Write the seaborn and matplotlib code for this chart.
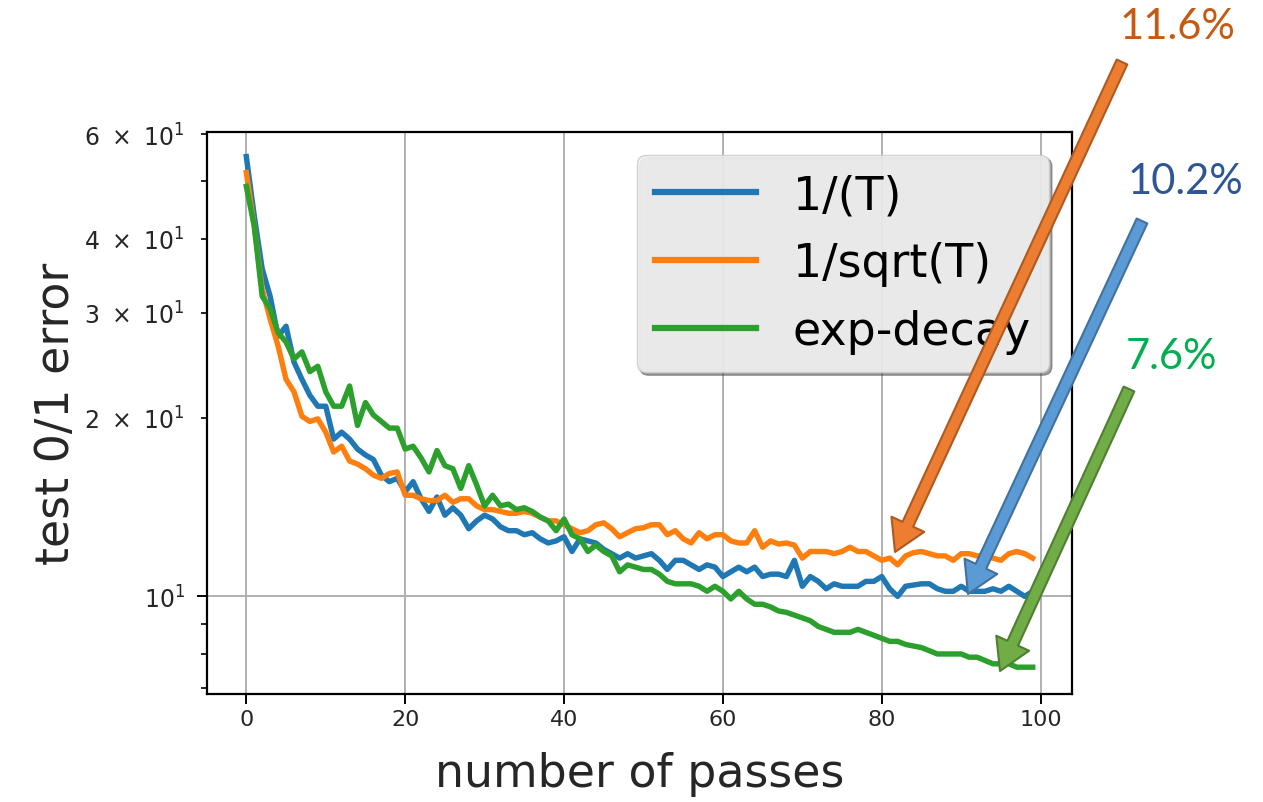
import matplotlib
matplotlib.use("Agg")
import matplotlib.pyplot as plt
import matplotlib.ticker as mticker
import numpy as np
import pandas as pd
import seaborn as sns

# test 0/1 error (%) per pass
passes = list(range(100))

err_inv_t = [
    55.0, 43.7, 35.6, 32.0, 27.4, 28.5, 24.8, 23.2, 21.8, 20.9,
    20.9, 18.4, 18.9, 18.4, 17.7, 17.3, 17.0, 16.0, 15.6, 15.8,
    15.0, 15.6, 14.6, 13.9, 14.7, 13.7, 14.1, 13.7, 13.0, 13.4,
    13.7, 13.5, 13.1, 12.9, 12.9, 12.7, 12.8, 12.5, 12.3, 12.4,
    12.6, 11.9, 12.5, 12.4, 12.3, 12.0, 11.8, 11.6, 11.8, 11.6,
    11.7, 11.8, 11.5, 11.1, 11.5, 11.5, 11.3, 11.1, 11.3, 11.2,
    10.8, 11.0, 11.2, 11.0, 11.2, 10.8, 10.9, 10.9, 10.8, 11.5,
    10.4, 10.8, 10.6, 10.3, 10.5, 10.4, 10.4, 10.4, 10.6, 10.6,
    10.8, 10.3, 10.0, 10.4, 10.45, 10.5, 10.5, 10.3, 10.2, 10.2,
    10.4, 10.2, 10.2, 10.2, 10.3, 10.2, 10.4, 10.2, 10.0, 10.2,
]

err_inv_sqrt_t = [
    51.7, 42.0, 32.9, 29.3, 26.4, 23.2, 22.1, 20.1, 19.7, 19.9,
    18.9, 17.5, 17.9, 16.9, 16.7, 16.4, 16.0, 15.8, 16.1, 16.2,
    14.8, 14.8, 14.6, 14.5, 14.5, 14.8, 14.4, 14.6, 14.6, 14.2,
    14.0, 14.0, 13.9, 13.8, 13.8, 13.9, 13.8, 13.6, 13.4, 13.4,
    13.2, 13.0, 12.8, 12.9, 13.2, 13.3, 13.0, 12.6, 12.8, 13.0,
    13.05, 13.2, 13.2, 12.7, 12.9, 12.5, 12.3, 12.8, 12.5, 12.7,
    12.7, 12.4, 12.3, 12.3, 12.9, 12.1, 12.4, 12.25, 12.3, 12.2,
    11.6, 11.9, 11.9, 11.9, 11.8, 11.9, 12.1, 11.9, 11.9, 11.7,
    11.5, 11.6, 11.3, 11.7, 11.85, 11.9, 11.8, 11.7, 11.7, 11.5,
    11.8, 11.8, 11.7, 11.7, 11.6, 11.5, 11.8, 11.9, 11.8, 11.6,
]

err_exp_decay = [
    49.0, 42.0, 32.0, 30.5, 27.8, 26.8, 25.1, 25.8, 23.9, 24.4,
    22.1, 20.9, 20.9, 22.6, 19.4, 21.2, 20.2, 19.7, 19.2, 19.2,
    17.7, 17.9, 17.1, 16.2, 17.6, 16.6, 16.4, 15.2, 16.6, 15.4,
    14.2, 14.8, 14.2, 14.3, 14.0, 14.1, 13.9, 13.6, 13.4, 12.9,
    13.5, 12.7, 12.5, 11.9, 12.2, 11.9, 11.7, 11.0, 11.3, 11.2,
    11.1, 11.1, 10.9, 10.6, 10.5, 10.5, 10.5, 10.4, 10.2, 10.4,
    10.2, 9.9, 10.2, 9.9, 9.7, 9.7, 9.6, 9.45, 9.4, 9.3,
    9.2, 9.1, 8.9, 8.8, 8.7, 8.7, 8.7, 8.8, 8.7, 8.6,
    8.5, 8.4, 8.4, 8.3, 8.25, 8.2, 8.1, 8.0, 8.0, 8.0,
    8.0, 7.9, 7.9, 7.8, 7.7, 7.7, 7.7, 7.6, 7.6, 7.6,
]

series_names = ["1/(T)", "1/sqrt(T)", "exp-decay"]
line_colors = ["#1f77b4", "#ff7f0e", "#2ca02c"]

# minor y ticks that carry a label (the rest stay blank)
labelled_minor = [20, 30, 40, 60]

final_labels = ["11.6%", "10.2%", "7.6%"]
label_colors = ["#C55A11", "#2F5597", "#00B050"]
arrow_fill = ["#ED7D31", "#5B9BD5", "#70AD47"]
arrow_edge = ["#AE5A21", "#41719C", "#507E32"]

df = pd.concat([
    pd.DataFrame({"pass": passes, "error": vals, "schedule": name})
    for name, vals in zip(series_names, [err_inv_t, err_inv_sqrt_t, err_exp_decay])
])

W, H = 1263, 803
fig = plt.figure(figsize=(W / 100, H / 100), dpi=100)
ax = fig.add_axes([207 / W, 108 / H, 865 / W, 562 / H])

sns.lineplot(data=df, x="pass", y="error", hue="schedule",
             palette=line_colors, linewidth=3.9, ax=ax)

ax.set_yscale("log")
ax.set_xlim(-4.95, 103.95)
ax.set_ylim(6.85, 60.5)
ax.set_xticks([0, 20, 40, 60, 80, 100])


def minor_fmt(v, pos):
    for m in labelled_minor:
        if abs(v - m) < 1e-6:
            return r"$%d\ \times\ 10^{1}$" % (m // 10)
    return ""


ax.yaxis.set_minor_formatter(mticker.FuncFormatter(minor_fmt))
ax.yaxis.set_major_formatter(mticker.FuncFormatter(lambda v, p: r"$10^{1}$" if abs(v - 10) < 1e-6 else ""))

ax.grid(True, which="major", color="#b0b0b0", linewidth=1.4)
ax.set_axisbelow(True)

for s in ax.spines.values():
    s.set_linewidth(1.6)
ax.tick_params(axis="x", which="major", labelsize=16, length=7, width=1.4, labelcolor="#262626")
ax.tick_params(axis="y", which="major", labelsize=17, length=7, width=1.4, pad=9, labelcolor="#262626")
ax.tick_params(axis="y", which="minor", labelsize=17, length=4, width=1.2, pad=12, labelcolor="#262626")

ax.set_xlabel("number of passes", fontsize=33, labelpad=16, color="#262626")
ax.set_ylabel("test 0/1 error", fontsize=33, color="#262626")

leg = ax.legend(title=None, loc="upper right", fontsize=33, shadow=True,
                fancybox=True, handlelength=2.2, facecolor="#f3f3f3", framealpha=0.88)
for line in leg.get_lines():
    line.set_linewidth(4.5)

# callouts with the final error values, placed in figure pixels (top-left origin)
text_pos = [(1177, 27), (1185, 182), (1172, 357)]
arrow_tail = [(1122, 63), (1142, 222), (1129, 390)]
arrow_tip = [(895, 553), (968, 595), (1000, 672)]

for i in range(3):
    tx, ty = text_pos[i]
    fig.text(tx / W, 1 - ty / H, final_labels[i], color=label_colors[i],
             fontsize=30, family=["Lato", "DejaVu Sans"], ha="center", va="center")
    ax.annotate("", xy=(arrow_tip[i][0], H - arrow_tip[i][1]),
                xytext=(arrow_tail[i][0], H - arrow_tail[i][1]),
                xycoords="figure pixels", textcoords="figure pixels",
                arrowprops=dict(arrowstyle="simple,head_length=1.1,head_width=1.3,tail_width=0.42",
                                mutation_scale=20, fc=arrow_fill[i], ec=arrow_edge[i],
                                lw=1.5, shrinkA=0, shrinkB=0),
                annotation_clip=False, zorder=10)

fig.savefig("out.png", dpi=100)
